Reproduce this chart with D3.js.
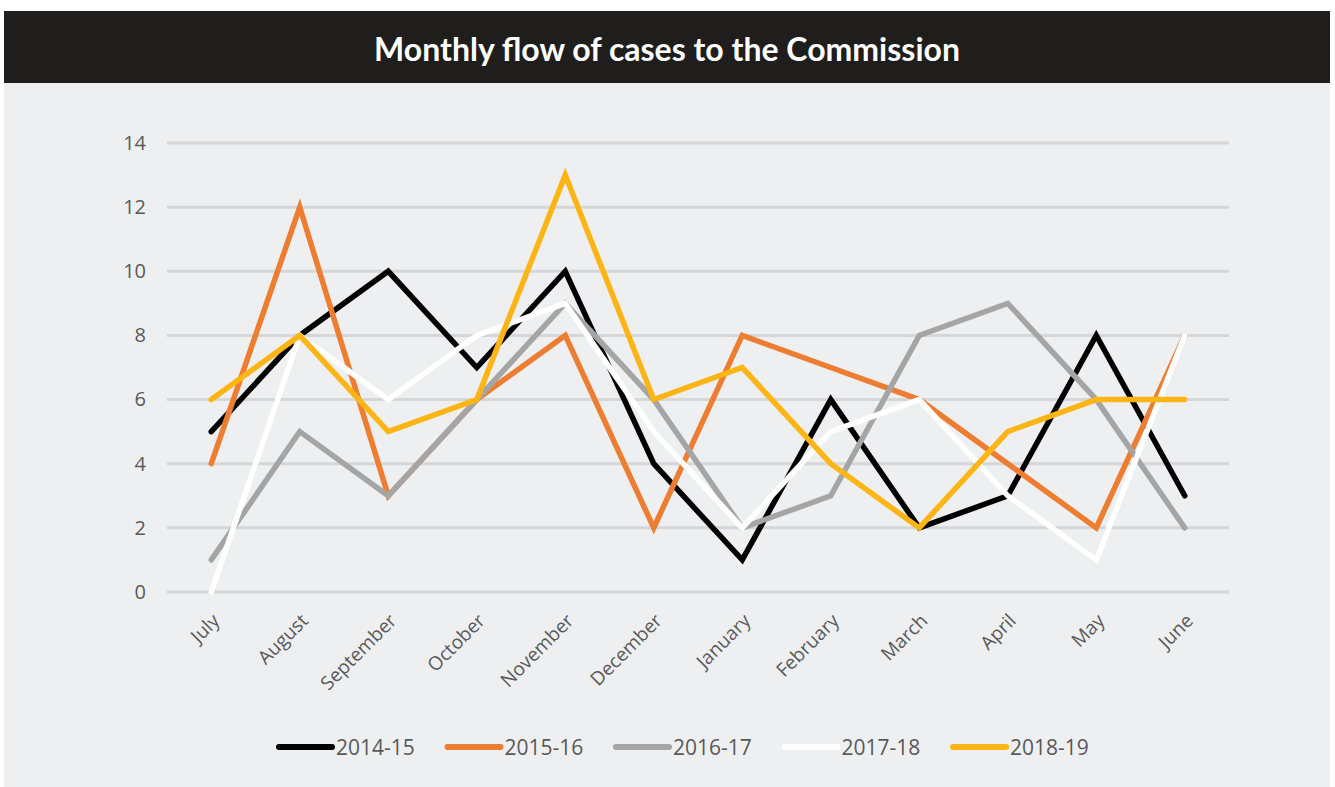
<!DOCTYPE html>
<html><head><meta charset="utf-8">
<script src="https://cdn.jsdelivr.net/npm/d3@7"></script>
<style>
html,body{margin:0;padding:0;background:#ffffff;}
svg{display:block;}
</style></head>
<body>
<svg id="chart" width="1335" height="787"></svg>
<script>
const title = "Monthly flow of cases to the Commission";
const months = ["July","August","September","October","November","December","January","February","March","April","May","June"];
const seriesNames = ["2014-15","2015-16","2016-17","2017-18","2018-19"];
const seriesColors = ["#000000","#ED7D31","#A5A5A5","#FFFFFF","#FDB515"];
const v2014 = [5,8,10,7,10,4,1,6,2,3,8,3];
const v2015 = [4,12,3,6,8,2,8,7,6,4,2,8];
const v2016 = [1,5,3,6,9,6,2,3,8,9,6,2];
const v2017 = [0,8,6,8,9,5,2,5,6,3,1,8];
const v2018 = [6,8,5,6,13,6,7,4,2,5,6,6];
const yTicks = [0,2,4,6,8,10,12,14];

const seriesValues = [v2014,v2015,v2016,v2017,v2018];
const series = seriesNames.map((n,i)=>({name:n,color:seriesColors[i],values:seriesValues[i]}));

const svg = d3.select("#chart");
// panel background
svg.append("rect").attr("x",4).attr("y",83).attr("width",1326).attr("height",704).attr("fill","#EEEFF1");
// title bar
svg.append("rect").attr("x",4).attr("y",11).attr("width",1326).attr("height",72).attr("fill","#201E1D");
svg.append("text").attr("x",667).attr("y",61).attr("text-anchor","middle")
  .attr("fill","#ffffff").attr("font-family","Lato, 'Open Sans', sans-serif").attr("font-weight",700)
  .attr("font-size",32).text(title);

const x = d3.scalePoint().domain(months).range([167,1229]).padding(0.5);
const y = d3.scaleLinear().domain([0,14]).range([592,143]);

// gridlines
const grid = svg.append("g");
grid.selectAll("line").data(yTicks).join("line")
  .attr("x1",167).attr("x2",1229)
  .attr("y1",d=>y(d)).attr("y2",d=>y(d))
  .attr("stroke","#D6D6D6").attr("stroke-width",3);

// y axis labels
const yAxis = d3.axisLeft(y).tickValues(yTicks).tickSize(0).tickPadding(0);
const yg = svg.append("g").attr("transform","translate(146,0)").call(yAxis);
yg.select(".domain").remove();
yg.selectAll("text").attr("fill","#595959").attr("font-family","'Open Sans', sans-serif").attr("font-size",20);

// x axis labels
const xAxis = d3.axisBottom(x).tickSize(0).tickPadding(0);
const xg = svg.append("g").attr("transform","translate(0,592)").call(xAxis);
xg.select(".domain").remove();
xg.selectAll("text")
  .attr("fill","#595959").attr("font-family","'Open Sans', sans-serif").attr("font-size",19)
  .attr("text-anchor","end").attr("dy",null).attr("y",null)
  .attr("transform","translate(9,30) rotate(-45)");

// lines
const line = d3.line().x((d,i)=>x(months[i])).y(d=>y(d));
svg.append("g").selectAll("path").data(series).join("path")
  .attr("d",d=>line(d.values))
  .attr("fill","none").attr("stroke",d=>d.color).attr("stroke-width",5.5)
  .attr("stroke-linejoin","miter").attr("stroke-linecap","round");

// legend
const lg = svg.append("g").selectAll("g").data(series).join("g")
  .attr("transform",(d,i)=>`translate(${279 + i*168.5},747)`);
lg.append("line").attr("x1",0).attr("x2",53).attr("y1",0).attr("y2",0)
  .attr("stroke",d=>d.color).attr("stroke-width",6).attr("stroke-linecap","round");
lg.append("text").attr("x",57).attr("y",8).attr("fill","#595959")
  .attr("font-family","'Open Sans', sans-serif").attr("font-size",21).text(d=>d.name);
</script>
</body></html>
